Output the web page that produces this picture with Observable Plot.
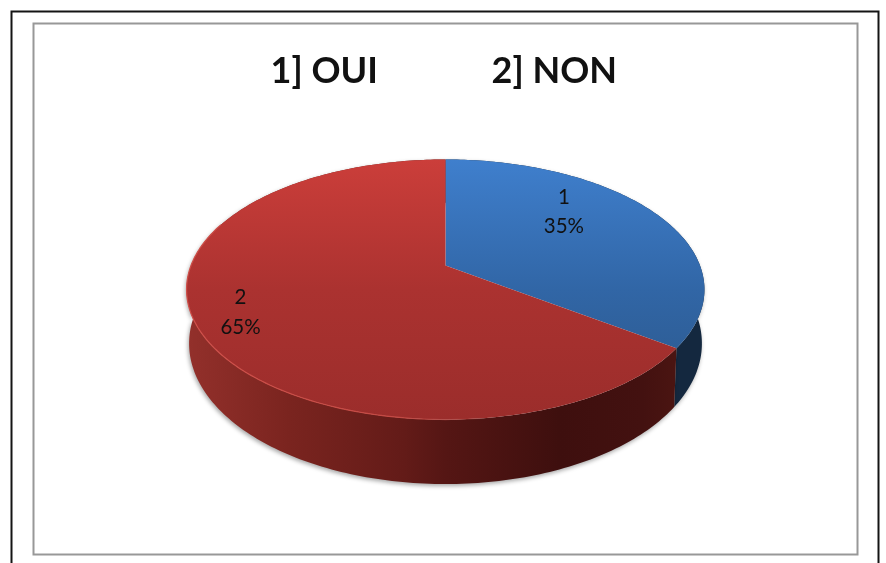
<!DOCTYPE html>
<html>
<head>
<meta charset="utf-8">
<script src="https://cdn.jsdelivr.net/npm/d3@7"></script>
<script src="https://cdn.jsdelivr.net/npm/@observablehq/plot@0.6"></script>
<style>
html,body{margin:0;padding:0;background:#fff;overflow:hidden}
svg{display:block}
</style>
</head>
<body>
<div id="chart"></div>
<script>
// Data
const categories = ["1", "2"];
const shares = [35, 65];
const titleParts = ["1] OUI", "2] NON"];

// Where the text sits
const titleLeft = [270, 491];
const titleBaseline = 82;
const labelRadius = [0.705, 0.825];
const labelAngle = [46, 246.5];

// Perspective model of the tilted disc
const disc = {cx: 445, k: 0.1846, top: {a: 254.5, b: 125.6, y0: 265}, base: {a: 252, b: 135.8, y0: 317}};
const rad = d => d * Math.PI / 180;
function project(deg, r, face) {
  const u = r * Math.sin(rad(deg)), v = -r * Math.cos(rad(deg)), w = 1 - disc.k * v;
  return {px: disc.cx + face.a * u / w, py: face.y0 + face.b * v / w};
}
function arc(from, to, face) {
  const n = Math.max(2, Math.ceil(Math.abs(to - from)));
  return d3.range(n + 1).map(i => project(from + (to - from) * i / n, 1, face));
}

const sliceArcs = d3.pie().sort(null).value(d => d)(shares).map(a => ({
  start: a.startAngle * 180 / Math.PI, end: a.endAngle * 180 / Math.PI
}));
const faceOf = i => [project(0, 0, disc.top), ...arc(sliceArcs[i].start, sliceArcs[i].end, disc.top), project(0, 0, disc.top)];
const wallOf = i => [...arc(sliceArcs[i].start, sliceArcs[i].end, disc.top), ...arc(sliceArcs[i].end, sliceArcs[i].start, disc.base)];
const rimPoints = arc(sliceArcs[1].start, 290, disc.top);
const labels = categories.map((c, i) => ({
  ...project(labelAngle[i], labelRadius[i], disc.top),
  text: `${c}\n${shares[i]}%`
}));
const titles = titleParts.map((t, i) => ({t, px: titleLeft[i], py: titleBaseline}));

function gradient(defs, id, attrs, stops) {
  const g = defs.append("linearGradient").attr("id", id).attr("gradientUnits", "userSpaceOnUse");
  Object.entries(attrs).forEach(([k, v]) => g.attr(k, v));
  stops.forEach(([o, c, a]) => g.append("stop").attr("offset", o).attr("stop-color", c).attr("stop-opacity", a ?? 1));
}
function gradients() {
  const defs = d3.create("svg:defs");
  const vert = {x1: 0, x2: 0, y1: 159, y2: 419};
  const hor = {x1: 186, x2: 704, y1: 0, y2: 0};
  gradient(defs, "topRed", vert, [[0, "#cb3e3a"], [0.5, "#ab3230"], [1, "#9b2d2b"]]);
  gradient(defs, "topBlue", vert, [[0, "#3f7fcd"], [0.5, "#3166a6"], [1, "#2b5688"]]);
  gradient(defs, "wallRed", hor, [[0, "#93302b"], [0.2, "#7a241f"], [0.42, "#631b18"], [0.5, "#551614"], [0.72, "#3e0f0e"], [0.88, "#431110"], [0.95, "#4b1512"], [1, "#4b1512"]]);
  gradient(defs, "wallBlue", hor, [[0, "#14283f"], [1, "#14283f"]]);
  gradient(defs, "rim", hor, [[0, "#cf4f49"], [0.4, "#c44a44"], [0.6, "#c44a44", 0], [1, "#c44a44", 0]]);
  return defs.node();
}

const line = (data, o) => Plot.line(data, {x: "px", y: "py", curve: "linear", ...o});
const shadow = "drop-shadow(-1px 2px 2px rgba(0,0,0,.35))";
const soft = "blur(0.35px)";

const chart = Plot.plot({
  width: 886, height: 563,
  marginTop: 0, marginRight: 0, marginBottom: 0, marginLeft: 0,
  x: {domain: [0, 886], range: [0, 886], axis: null},
  y: {domain: [0, 563], range: [0, 563], axis: null},
  style: {background: "#fff", overflow: "hidden"},
  marks: [
    gradients,
    Plot.frame({stroke: "#141414", strokeWidth: 2, insetLeft: 11, insetTop: 11, insetRight: 8, insetBottom: -20}),
    Plot.frame({stroke: "#989898", strokeWidth: 2, insetLeft: 33, insetTop: 23, insetRight: 29, insetBottom: 9}),
    line(wallOf(0), {fill: "url(#wallBlue)", stroke: "none", imageFilter: shadow}),
    line(wallOf(1), {fill: "url(#wallRed)", stroke: "none", imageFilter: shadow}),
    line(faceOf(0), {fill: "url(#topBlue)", stroke: "none"}),
    line(faceOf(1), {fill: "url(#topRed)", stroke: "none"}),
    line(rimPoints, {stroke: "url(#rim)", strokeWidth: 1.2}),
    Plot.text(labels, {x: "px", y: "py", text: "text", fontFamily: "Lato", fontSize: 20.5, lineHeight: 1.45, fill: "#111", imageFilter: soft}),
    Plot.text(titles, {x: "px", y: "py", text: "t", textAnchor: "start", lineAnchor: "bottom", fontFamily: "Lato", fontWeight: "bold", fontSize: 36, fill: "#111", imageFilter: soft})
  ]
});
document.getElementById("chart").append(chart);
</script>
</body>
</html>
